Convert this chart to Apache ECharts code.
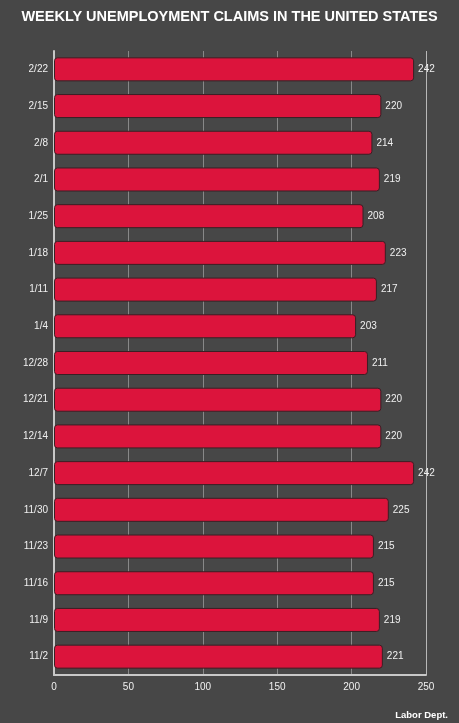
<!DOCTYPE html>
<html><head><meta charset="utf-8">
<script src="https://cdn.jsdelivr.net/npm/echarts@6/dist/echarts.min.js"></script>
<style>html,body{margin:0;padding:0;background:#474747;}#c{width:459px;height:723px;}</style>
</head><body><div id="c"></div>
<script>
var categories = ['2/22','2/15','2/8','2/1','1/25','1/18','1/11','1/4','12/28','12/21','12/14','12/7','11/30','11/23','11/16','11/9','11/2'];
var claims = [242,220,214,219,208,223,217,203,211,220,220,242,225,215,215,219,221];
var xTicks = [0,50,100,150,200,250];

var chart = echarts.init(document.getElementById('c'));
chart.setOption({
  backgroundColor: '#474747',
  animation: false,
  title: [{
    text: 'WEEKLY UNEMPLOYMENT CLAIMS IN THE UNITED STATES',
    left: 'center', top: 4,
    textStyle: {color: '#ffffff', fontFamily: 'Liberation Sans, Arial, sans-serif', fontWeight: 'bold', fontSize: 14.5}
  },{
    text: 'Labor Dept.',
    right: 6, top: 705,
    textStyle: {color: '#ffffff', fontFamily: 'Liberation Sans, Arial, sans-serif', fontWeight: 'bold', fontSize: 9.5}
  }],
  grid: {left: 54, right: 33, top: 51, bottom: 48, containLabel: false},
  xAxis: {
    type: 'value', min: 0, max: 250, interval: 50,
    axisLine: {show: true, lineStyle: {color: '#c8c8c8', width: 2}},
    axisTick: {show: false},
    axisLabel: {color: '#f0f0f0', fontSize: 10, fontFamily: 'Liberation Sans, Arial, sans-serif', margin: 7,
      formatter: function(v){ return xTicks.indexOf(v) >= 0 ? String(v) : ''; }},
    splitLine: {show: true, lineStyle: {color: ['#888888','#888888','#888888','#888888','#888888','#b8b8b8'], width: 1}}
  },
  yAxis: {
    type: 'category', data: categories, inverse: true,
    axisLine: {show: true, lineStyle: {color: '#c8c8c8', width: 2}},
    axisTick: {show: false},
    axisLabel: {color: '#f0f0f0', fontSize: 10, fontFamily: 'Liberation Sans, Arial, sans-serif', margin: 6}
  },
  series: [{
    type: 'bar', data: claims, barWidth: 24,
    itemStyle: {color: '#dc143c', borderColor: '#3a1f24', borderWidth: 1, borderRadius: 3},
    label: {show: true, position: 'right', distance: 4, color: '#f0f0f0', fontSize: 10, fontFamily: 'Liberation Sans, Arial, sans-serif'}
  }]
});
</script></body></html>
